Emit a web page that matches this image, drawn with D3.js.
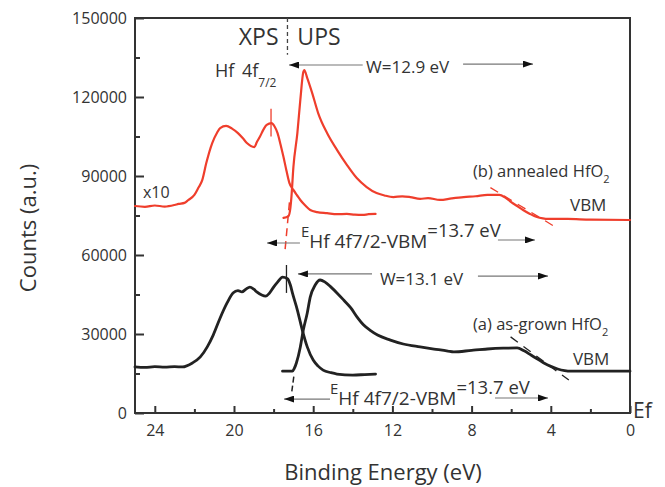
<!DOCTYPE html>
<html>
<head>
<meta charset="utf-8">
<script src="https://cdn.jsdelivr.net/npm/d3@7"></script>
<style>
  html, body { margin: 0; padding: 0; background: #fff; }
  svg { display: block; font-family: "Open Sans", "DejaVu Sans", sans-serif; }
</style>
</head>
<body>
<svg id="chart" width="665" height="487"></svg>
<script>
// Binding energy (eV) / counts pairs for each spectrum
const xpsAnnealed = [
  [25, 78600], [24.5, 78300], [24, 78800], [23.5, 78400], [23, 79000], [22.8, 79400], [22.5, 79800],
  [22.3, 80900], [22.0, 82800], [21.8, 85500], [21.6, 88500], [21.4, 94900], [21.1, 102500],
  [20.85, 106500], [20.7, 108200], [20.4, 109000], [20.1, 108000], [19.8, 106300], [19.55, 104300],
  [19.35, 102500], [18.97, 101000], [18.85, 102800], [18.7, 104800], [18.5, 107800], [18.35, 109400],
  [18.1, 110100], [17.95, 108800], [17.8, 106300], [17.65, 102000], [17.5, 97200], [17.35, 92000],
  [17.2, 87300], [17.0, 84700], [16.8, 82500], [16.65, 80900], [16.4, 78800], [16.15, 77100],
  [15.8, 76300], [15.3, 75900], [14.8, 75500], [14.3, 75600], [13.9, 75300], [13.5, 75200],
  [13.2, 75500], [12.85, 75600]
];
const upsAnnealed = [
  [17.5, 74100], [17.25, 74800], [17.15, 78000], [17.1, 82000], [17.0, 93400], [16.8, 106300],
  [16.65, 118900], [16.5, 129500], [16.45, 130200], [16.3, 127200], [16.05, 121500], [15.75, 113900],
  [15.3, 106300], [14.8, 99900], [14.3, 94200], [13.8, 89200], [13.3, 85800], [12.8, 83500],
  [12.4, 82600], [11.95, 82000], [11.5, 82300], [11.1, 82000], [10.6, 81300], [10.2, 81600],
  [9.6, 80900], [9.0, 81500], [8.4, 82000], [7.8, 82300], [7.2, 82800], [6.6, 82800],
  [6.3, 81800], [6.0, 80100], [5.7, 78600], [5.4, 77100], [5.05, 75600], [4.7, 74400],
  [4.4, 73900], [4.15, 73700], [3.15, 73700], [2, 73400], [0, 73300]
];
const xpsAsGrown = [
  [25, 17500], [24.5, 17300], [24, 17600], [23.5, 17400], [23, 17600], [22.6, 17500], [22.1, 19000],
  [21.7, 21300], [21.35, 25100], [21.05, 29600], [20.7, 36100], [20.35, 41800], [20.05, 45600],
  [19.8, 46500], [19.6, 46000], [19.4, 47000], [19.2, 47800], [19.0, 47000], [18.85, 46000],
  [18.6, 44800], [18.4, 44400], [18.2, 45600], [18.0, 47800], [17.8, 49700], [17.55, 51600],
  [17.3, 51000], [17.15, 48500], [17.05, 45600], [16.8, 39100], [16.55, 31500], [16.3, 25100],
  [16.0, 20100], [15.75, 17800], [15.5, 16300], [15.1, 15300], [14.8, 14800], [14.0, 14400],
  [13.4, 14600], [12.85, 14800]
];
const upsAsGrown = [
  [17.55, 15900], [17.05, 15900], [16.95, 17000], [16.85, 19000], [16.65, 25100], [16.5, 31500],
  [16.3, 38000], [16.15, 44000], [15.9, 48600], [15.65, 50500], [15.4, 49700], [15.1, 47800],
  [14.8, 45600], [14.45, 42800], [14.1, 39900], [13.8, 36600], [13.45, 33400], [13.1, 31300],
  [12.75, 29600], [12.1, 27700], [11.45, 26200], [10.6, 25100], [9.9, 24300], [9.2, 23500],
  [8.9, 23200], [8.0, 23800], [7.2, 24300], [6.4, 24600], [5.7, 24700], [5.35, 23600],
  [5.0, 22000], [4.65, 20400], [4.35, 19000], [4.0, 17700], [3.65, 16700], [3.3, 16100],
  [3.0, 15900], [0, 15900]
];

// Axis ticks
const xMajorTicks = [24, 20, 16, 12, 8, 4, 0];
const xMinorTicks = [22, 18, 14, 10, 6, 2];
const yMajorTicks = [0, 30000, 60000, 90000, 120000, 150000];
const yMinorTicks = [15000, 45000, 75000, 105000, 135000];

// Construction lines: [E1, C1, E2, C2]
const vbmTangentAnnealed = [7.05, 85600, 3.85, 71000];
const vbmTangentAsGrown = [6.03, 28900, 3.09, 12500];
const onsetTangentAnnealed = [17.2, 80000, 17.42, 62000];
const onsetTangentAsGrown = [16.98, 13800, 17.08, 8200];
const peakMarkAnnealed = [18.13, 105000, 18.13, 115500];
const peakMarkAsGrown = [17.35, 45600, 17.35, 56200];
const xpsUpsDivider = [17.3, 150000, 17.3, 136000];

// Distance arrows: [tailE, headE, C]
const arrowsW129 = [[13.5, 17.22, 132150], [8.43, 4.9, 132500]];
const arrowsEAnnealed = [[16.67, 18.33, 64560], [6.67, 4.8, 65700]];
const arrowsW131 = [[13.03, 16.77, 52800], [7.68, 4.14, 52000]];
const arrowsEAsGrown = [[15.15, 17.47, 5300], [6.82, 4.14, 5700]];

const W = 665, H = 487;
const margin = { left: 135, right: 35, top: 18, bottom: 74 };
const svg = d3.select("#chart");

const x = d3.scaleLinear().domain([25, 0]).range([margin.left, W - margin.right]);
const y = d3.scaleLinear().domain([0, 150000]).range([H - margin.bottom, margin.top]);

const RED = "#ef3e2c";
const INK = "#222";
const TXT = "#333";

// Arrowhead marker
svg.append("defs").append("marker")
  .attr("id", "head")
  .attr("viewBox", "0 0 10 7")
  .attr("refX", 10).attr("refY", 3.5)
  .attr("markerWidth", 10).attr("markerHeight", 7)
  .attr("markerUnits", "userSpaceOnUse")
  .attr("orient", "auto")
  .append("path").attr("d", "M0,0 L10,3.5 L0,7 Z").attr("fill", "#111");

// Frame
svg.append("rect")
  .attr("x", x(25)).attr("y", y(150000))
  .attr("width", x(0) - x(25)).attr("height", y(0) - y(150000))
  .attr("fill", "none").attr("stroke", "#333").attr("stroke-width", 2);

// Bottom axis (ticks point inward)
const gx = svg.append("g").attr("transform", `translate(0,${y(0)})`);
gx.call(d3.axisBottom(x).tickValues(xMajorTicks).tickSize(-7).tickPadding(12).tickSizeOuter(0));
gx.append("g").call(d3.axisBottom(x).tickValues(xMinorTicks).tickSize(-4).tickFormat(""));
gx.selectAll(".domain").remove();
gx.selectAll("line").attr("stroke", "#333").attr("stroke-width", 2);
gx.selectAll("text").attr("font-size", 16).attr("fill", TXT).attr("font-family", "Open Sans");

// Left axis (ticks point inward)
const gy = svg.append("g").attr("transform", `translate(${x(25)},0)`);
gy.call(d3.axisLeft(y).tickValues(yMajorTicks).tickSize(-9).tickPadding(8).tickSizeOuter(0).tickFormat(d3.format("d")));
gy.append("g").call(d3.axisLeft(y).tickValues(yMinorTicks).tickSize(-5).tickFormat(""));
gy.selectAll(".domain").remove();
gy.selectAll("line").attr("stroke", "#333").attr("stroke-width", 2);
gy.selectAll("text").attr("font-size", 16).attr("fill", TXT).attr("font-family", "Open Sans");

// Axis titles
svg.append("text").attr("x", 383).attr("y", 480).attr("text-anchor", "middle")
  .attr("font-size", 22).attr("fill", TXT).text("Binding Energy (eV)");
svg.append("text").attr("transform", "translate(36,228) rotate(-90)").attr("text-anchor", "middle")
  .attr("font-size", 22).attr("fill", TXT).text("Counts (a.u.)");
svg.append("text").attr("x", x(0) + 3).attr("y", 418).attr("font-size", 21).attr("fill", TXT).text("Ef");

// Spectra
const line = d3.line().x(d => x(d[0])).y(d => y(d[1])).curve(d3.curveMonotoneX);
const drawSpectrum = (data, color, width) =>
  svg.append("path").datum(data).attr("d", line)
    .attr("fill", "none").attr("stroke", color).attr("stroke-width", width)
    .attr("stroke-linejoin", "round").attr("stroke-linecap", "round");

drawSpectrum(xpsAsGrown, INK, 2.8);
drawSpectrum(upsAsGrown, INK, 2.8);
drawSpectrum(xpsAnnealed, RED, 2.2);
drawSpectrum(upsAnnealed, RED, 2.2);

// Construction lines
const seg = (s, color, width, dash) =>
  svg.append("line")
    .attr("x1", x(s[0])).attr("y1", y(s[1])).attr("x2", x(s[2])).attr("y2", y(s[3]))
    .attr("stroke", color).attr("stroke-width", width).attr("stroke-dasharray", dash || null);

seg(vbmTangentAnnealed, RED, 1.3, "9,7");
seg(onsetTangentAnnealed, RED, 1.5, "8,5");
seg(peakMarkAnnealed, RED, 1.3);
seg(vbmTangentAsGrown, INK, 1.3, "9,7");
seg(onsetTangentAsGrown, INK, 1.5, "6,3");
seg(peakMarkAsGrown, INK, 1.3);
seg(xpsUpsDivider, "#444", 1.3, "4,3");

// Arrows
const drawArrows = list => list.forEach(a =>
  svg.append("line")
    .attr("x1", x(a[0])).attr("y1", y(a[2])).attr("x2", x(a[1])).attr("y2", y(a[2]))
    .attr("stroke", "#777").attr("stroke-width", 1.2).attr("marker-end", "url(#head)"));
drawArrows(arrowsW129);
drawArrows(arrowsEAnnealed);
drawArrows(arrowsW131);
drawArrows(arrowsEAsGrown);

// Labels
const label = (E, C, txt, size, anchor) =>
  svg.append("text").attr("x", x(E)).attr("y", y(C)).attr("font-size", size)
    .attr("fill", TXT).attr("text-anchor", anchor || "start").text(txt);

label(17.75, 139800, "XPS", 23, "end");
label(16.8, 139800, "UPS", 23);
label(24.6, 81650, "x10", 16);
label(13.33, 129100, "W=12.9 eV", 17);
label(12.63, 48600, "W=13.1 eV", 17);
label(3.03, 76700, "VBM", 17);
label(2.88, 18200, "VBM", 17);

const hf = label(20.96, 127600, "Hf 4f", 18).attr("word-spacing", 3);
hf.append("tspan").attr("dy", 10).attr("font-size", 12).text("7/2");

const sample = (E, C, prefix) => {
  const t = label(E, C, prefix + " HfO", 16.5);
  t.append("tspan").attr("dy", 6).attr("font-size", 11).text("2");
};
sample(7.93, 89600, "(b) annealed");
sample(7.93, 31500, "(a) as-grown");

// E_{Hf 4f7/2-VBM} annotations
const gapLabel = (E, C) => {
  const t = svg.append("text").attr("x", x(E)).attr("y", y(C) - 11).attr("fill", TXT);
  t.append("tspan").attr("font-size", 15).text("E");
  t.append("tspan").attr("font-size", 19).attr("dy", 11).text("Hf 4f7/2-VBM");
  t.append("tspan").attr("font-size", 18.5).attr("dy", -11).text("=13.7 eV");
};
gapLabel(16.62, 62660);
gapLabel(15.15, 3040);
</script>
</body>
</html>
